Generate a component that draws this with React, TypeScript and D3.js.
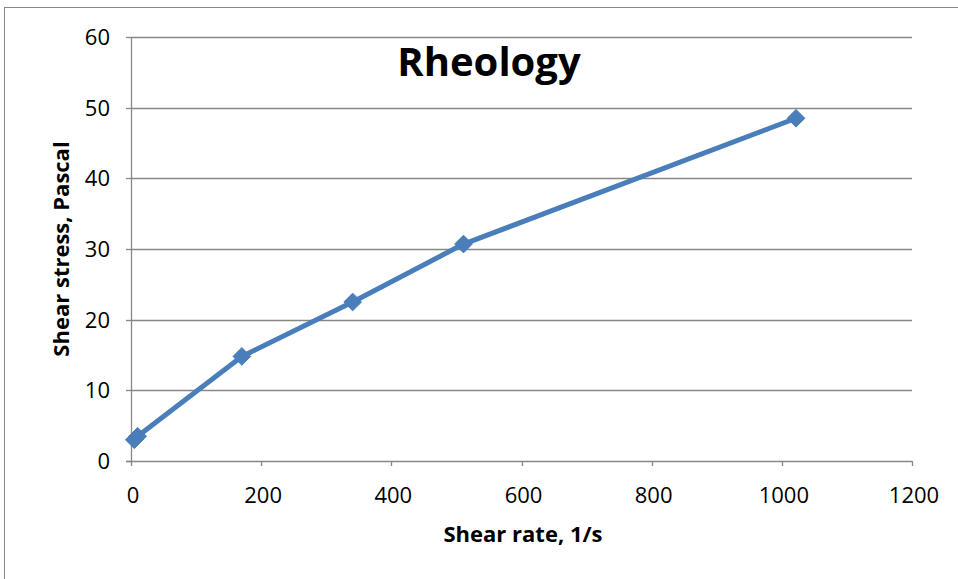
import React, { useEffect, useRef } from "react";
import * as d3 from "d3";

const shearRate = [5.11, 10.22, 170.3, 340.6, 510.9, 1021.8];
const shearStress = [3.0, 3.5, 14.8, 22.5, 30.7, 48.5];
const xTicks = [0, 200, 400, 600, 800, 1000, 1200];
const yTicks = [0, 10, 20, 30, 40, 50, 60];

const W = 958;
const H = 579;
const FONT = "'Open Sans', 'Noto Sans', sans-serif";
const BLUE = "#4a7ebb";
const GRID = "#878787";

export default function App() {
  const ref = useRef<SVGSVGElement>(null);

  useEffect(() => {
    const svg = d3.select(ref.current);
    svg.selectAll("*").remove();

    const x = d3.scaleLinear().domain([0, 1200]).range([131, 912]);
    const y = d3.scaleLinear().domain([0, 60]).range([461, 37]);

    // outer chart frame
    svg.append("rect")
      .attr("x", 4.5).attr("y", 7.5)
      .attr("width", W + 20).attr("height", H + 20)
      .attr("fill", "white").attr("stroke", GRID).attr("stroke-width", 1);

    // horizontal gridlines
    svg.append("g").selectAll("line").data(yTicks.filter(t => t > 0)).join("line")
      .attr("x1", x(0)).attr("x2", x(1200))
      .attr("y1", d => Math.round(y(d)) + 0.5).attr("y2", d => Math.round(y(d)) + 0.5)
      .attr("stroke", GRID).attr("stroke-width", 1.3);

    // y axis
    const yAxis = svg.append("g");
    yAxis.append("line")
      .attr("x1", x(0) + 0.5).attr("x2", x(0) + 0.5)
      .attr("y1", y(60)).attr("y2", y(0))
      .attr("stroke", GRID).attr("stroke-width", 1.3);
    yAxis.selectAll("line.tick").data(yTicks).join("line").attr("class", "tick")
      .attr("x1", x(0) - 5).attr("x2", x(0))
      .attr("y1", d => Math.round(y(d)) + 0.5).attr("y2", d => Math.round(y(d)) + 0.5)
      .attr("stroke", GRID).attr("stroke-width", 1.3);
    yAxis.selectAll("text").data(yTicks).join("text")
      .attr("x", x(0) - 21).attr("y", d => y(d))
      .attr("dy", "0.36em").attr("text-anchor", "end")
      .attr("font-family", FONT).attr("font-size", 22).attr("fill", "#000")
      .text(d => d);

    // x axis
    const xAxis = svg.append("g");
    xAxis.append("line")
      .attr("x1", x(0) - 5).attr("x2", x(1200))
      .attr("y1", y(0) + 0.5).attr("y2", y(0) + 0.5)
      .attr("stroke", GRID).attr("stroke-width", 1.3);
    xAxis.selectAll("line.tick").data(xTicks).join("line").attr("class", "tick")
      .attr("x1", d => Math.round(x(d)) + 0.5).attr("x2", d => Math.round(x(d)) + 0.5)
      .attr("y1", y(0)).attr("y2", y(0) + 5)
      .attr("stroke", GRID).attr("stroke-width", 1.3);
    xAxis.selectAll("text").data(xTicks).join("text")
      .attr("x", d => x(d) + 2).attr("y", 503)
      .attr("text-anchor", "middle")
      .attr("font-family", FONT).attr("font-size", 22).attr("fill", "#000")
      .text(d => d);

    // series line
    const pts = shearRate.map((r, i) => [r, shearStress[i]] as [number, number]);
    svg.append("path")
      .datum(pts)
      .attr("fill", "none").attr("stroke", BLUE).attr("stroke-width", 5)
      .attr("stroke-linejoin", "round")
      .attr("d", d3.line<[number, number]>().x(d => x(d[0])).y(d => y(d[1])));

    // diamond markers
    const diamond = d3.symbol().type(d3.symbolDiamond2).size(200);
    svg.append("g").selectAll("path").data(pts).join("path")
      .attr("transform", d => `translate(${x(d[0])},${y(d[1])})`)
      .attr("d", diamond()).attr("fill", BLUE).attr("stroke", BLUE).attr("stroke-width", 1);

    // titles
    svg.append("text")
      .attr("x", 489).attr("y", 76).attr("text-anchor", "middle")
      .attr("font-family", FONT).attr("font-weight", "bold").attr("font-size", 40)
      .text("Rheology");
    svg.append("text")
      .attr("x", 523).attr("y", 542).attr("text-anchor", "middle")
      .attr("font-family", FONT).attr("font-weight", "bold").attr("font-size", 22)
      .text("Shear rate, 1/s");
    svg.append("text")
      .attr("transform", "translate(69,249) rotate(-90)").attr("text-anchor", "middle")
      .attr("font-family", FONT).attr("font-weight", "bold").attr("font-size", 22)
      .text("Shear stress, Pascal");
  }, []);

  return (
    <svg ref={ref} width={W} height={H}
      style={{ position: "absolute", left: 0, top: 0, display: "block" }} />
  );
}
